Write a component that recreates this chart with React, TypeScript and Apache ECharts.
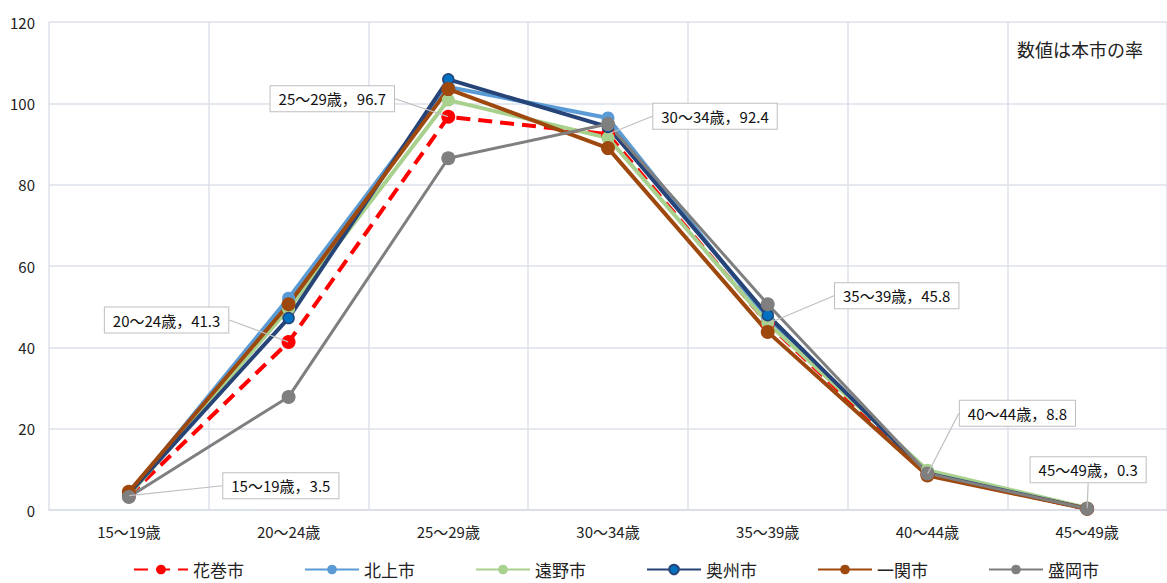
import React, { useEffect, useRef } from "react";
import * as echarts from "echarts";

const categories = ["15～19歳", "20～24歳", "25～29歳", "30～34歳", "35～39歳", "40～44歳", "45～49歳"];
const hanamaki = [3.5, 41.3, 96.7, 92.4, 45.8, 8.8, 0.3];
const kitakami = [4.0, 52.1, 104.0, 96.4, 47.0, 9.5, 0.4];
const tono = [3.5, 49.5, 100.8, 91.5, 46.0, 9.8, 0.5];
const oshu = [4.0, 47.2, 105.9, 94.2, 47.9, 9.0, 0.3];
const ichinoseki = [4.5, 50.6, 103.5, 89.0, 43.8, 8.5, 0.3];
const morioka = [3.2, 27.8, 86.5, 94.9, 50.6, 9.0, 0.3];
const yTicks = { min: 0, max: 120, interval: 20 };
const labelOffsets = [
  [152, -10],
  [-122, -22],
  [-116, -18],
  [107, -18],
  [129, -28],
  [90, -61],
  [1, -39],
];

const FONT = '"Noto Sans CJK JP", "Noto Sans", sans-serif';

export default function App() {
  const ref = useRef<HTMLDivElement>(null);
  useEffect(() => {
    if (!ref.current) return;
    const chart = echarts.init(ref.current, undefined, { renderer: "svg" });
    const mk = (name: string, data: number[], color: string, width: number, size: number, extra: any = {}) => ({
      name,
      type: "line",
      data,
      symbol: "circle",
      symbolSize: size,
      lineStyle: { color, width },
      itemStyle: { color },
      ...extra,
    });
    chart.setOption({
      animation: false,
      textStyle: { fontFamily: FONT },
      grid: { left: 49, top: 22, right: -9, bottom: 73 },
      xAxis: {
        type: "category",
        data: categories,
        boundaryGap: true,
        axisLine: { lineStyle: { color: "#d9dde6", width: 1.5 } },
        axisTick: { show: false },
        axisLabel: { color: "#222", fontSize: 15, margin: 14, fontFamily: FONT },
        splitLine: { show: true, lineStyle: { color: "#dde1ea", width: 1.5 } },
      },
      yAxis: {
        type: "value",
        min: yTicks.min,
        max: yTicks.max,
        interval: yTicks.interval,
        axisLine: { show: false },
        axisTick: { show: false },
        axisLabel: { color: "#222", fontSize: 15, margin: 14, fontFamily: FONT },
        splitLine: { lineStyle: { color: "#dde1ea", width: 1.5 } },
      },
      legend: {
        bottom: 0,
        left: 128,
        itemWidth: 54,
        itemHeight: 12,
        itemGap: 60,
        data: ["花巻市", "北上市", "遠野市", "奥州市", "一関市", "盛岡市"],
        textStyle: { fontSize: 17, color: "#222", fontFamily: FONT },
      },
      graphic: [
        {
          type: "text",
          right: 20,
          top: 36,
          z: 100,
          style: {
            text: "数値は本市の率",
            fontSize: 18,
            fill: "#222",
            fontFamily: FONT,
            backgroundColor: "#fff",
            padding: [4, 4],
          },
        },
      ],
      series: [
        mk("花巻市", hanamaki, "#ff0000", 4, 14, { lineStyle: { color: "#ff0000", width: 4, type: [14, 8] } }),
        mk("北上市", kitakami, "#5b9bd5", 4, 13),
        mk("遠野市", tono, "#a9d18e", 4, 13),
        mk("奥州市", oshu, "#264478", 4, 11, {
          itemStyle: { color: "#0070c0", borderColor: "#264478", borderWidth: 1.5 },
        }),
        mk("一関市", ichinoseki, "#9e480e", 4, 14),
        mk("盛岡市", morioka, "#7f7f7f", 3, 14),
        {
          name: "label",
          type: "line",
          data: hanamaki,
          symbol: "circle",
          symbolSize: 1,
          z: 10,
          lineStyle: { opacity: 0 },
          itemStyle: { color: "transparent" },
          silent: true,
          label: {
            show: true,
            position: "inside",
            formatter: (p: any) => `${categories[p.dataIndex]}，${p.value}`,
            color: "#111",
            fontSize: 15,
            fontFamily: FONT,
            backgroundColor: "#fff",
            borderColor: "#bfbfbf",
            borderWidth: 1,
            padding: [5, 8],
          },
          labelLine: { show: true, lineStyle: { color: "#bfbfbf", width: 1.2 } },
          labelLayout: (p: any) => ({
            dx: labelOffsets[p.dataIndex][0],
            dy: labelOffsets[p.dataIndex][1],
          }),
        },
      ],
    });
    return () => chart.dispose();
  }, []);
  return <div ref={ref} style={{ position: "fixed", left: 0, top: 0, width: 1167, height: 583, background: "#fff" }} />;
}
